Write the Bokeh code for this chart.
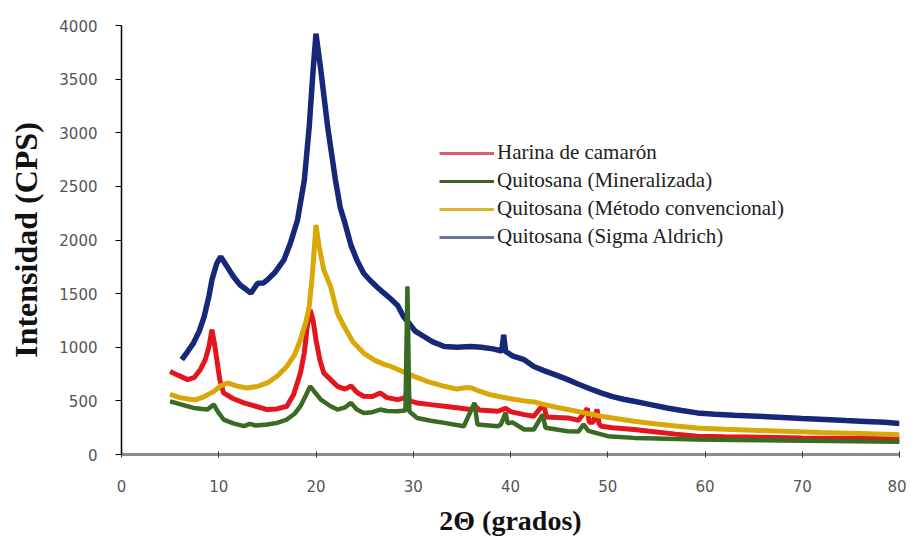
from bokeh.plotting import figure
from bokeh.models import Range1d, FixedTicker, Legend, LegendItem
from bokeh.embed import file_html
from bokeh.resources import INLINE

# ---- data ----
x_ticks = [0, 10, 20, 30, 40, 50, 60, 70, 80]
y_ticks = [0, 500, 1000, 1500, 2000, 2500, 3000, 3500, 4000]

series_names = ["Harina de camarón", "Quitosana (Mineralizada)",
                "Quitosana (Método convencional)", "Quitosana (Sigma Aldrich)"]

red_x = [5.0, 5.8, 6.8, 7.5, 8.1, 8.6, 9.0, 9.3, 9.6, 9.8, 10.1, 10.5, 11.5, 12.6, 13.8,
         15.0, 16.0, 17.0, 17.7, 18.4, 18.8, 19.1, 19.4, 19.7, 20.0, 20.4, 20.8, 21.5,
         22.2, 23.0, 23.6, 24.2, 24.9, 25.8, 26.6, 27.3, 28.4, 29.2, 29.4, 29.6, 30.4,
         31.8, 33.2, 34.5, 35.9, 36.4, 36.8, 38.7, 39.5, 40.0, 41.4, 42.4, 43.4, 43.7,
         45.9, 47.0, 47.9, 48.1, 48.5, 48.9, 49.1, 49.3, 50.5, 52.7, 55.0, 57.0, 59.2,
         62.0, 66.0, 70.0, 75.0, 80.0]
red_y = [775, 740, 698, 720, 791, 880, 1007, 1163, 1010, 884, 700, 574, 520, 481, 450,
         419, 425, 450, 560, 760, 950, 1193, 1349, 1250, 1070, 880, 760, 698,
         636, 610, 640, 580, 543, 540, 574, 530, 512, 530, 620, 500, 481,
         465, 450, 435, 419, 450, 415, 403, 430, 400, 372, 357, 470, 350,
         341, 320, 430, 300, 300, 420, 290, 264, 250, 233, 210, 190, 171,
         165, 160, 155, 152, 148]

green_x = [5.0, 6.0, 7.4, 8.8, 9.5, 9.9, 10.5, 11.5, 12.6, 13.2, 13.8, 15.0, 16.0, 17.0,
           17.8, 18.4, 19.0, 19.4, 19.8, 20.5, 21.5, 22.2, 23.0, 23.6, 24.2, 24.9, 25.8,
           26.6, 27.3, 28.4, 29.2, 29.4, 29.6, 30.4, 31.8, 33.2, 35.2, 36.3, 36.6, 38.7,
           39.0, 39.5, 39.7, 40.2, 41.4, 42.4, 43.3, 43.6, 45.9, 47.0, 47.5, 48.0, 50.0,
           52.7, 55.0, 59.2, 63.0, 68.0, 73.0, 80.0]
green_y = [496, 470, 434, 419, 465, 400, 326, 290, 264, 285, 270, 279, 295, 326,
           380, 450, 560, 636, 590, 512, 450, 419, 440, 481, 420, 388, 395,
           419, 405, 403, 410, 1566, 400, 341, 315, 295, 264, 481, 280, 264,
           279, 388, 290, 300, 233, 233, 372, 250, 217, 215, 280, 220, 171,
           155, 150, 140, 135, 130, 125, 118]

yellow_x = [5.0, 6.0, 7.0, 7.6, 8.5, 9.5, 10.2, 10.9, 11.8, 12.9, 14.0, 15.0, 16.0, 17.0,
            17.8, 18.4, 19.0, 19.3, 19.6, 19.85, 20.0, 20.3, 20.8, 21.5, 22.2, 22.9, 23.8,
            24.9, 26.0, 27.0, 27.7, 29.0, 30.1, 31.5, 33.2, 34.5, 35.5, 36.0, 36.8, 37.8,
            38.7, 40.0, 41.4, 42.4, 43.5, 44.7, 45.9, 47.5, 49.3, 51.0, 52.7, 55.0, 57.0,
            59.2, 62.0, 65.0, 68.8, 72.0, 76.0, 80.0]
yellow_y = [560, 530, 515, 510, 540, 589, 640, 667, 640, 620, 635, 667, 730, 821,
            930, 1070, 1250, 1380, 1650, 1950, 2140, 1950, 1721, 1566, 1318, 1193, 1050,
            946, 880, 840, 821, 770, 728, 680, 636, 610, 625, 620, 590, 560,
            543, 520, 500, 490, 465, 440, 419, 390, 357, 333, 310, 285, 265,
            248, 235, 225, 215, 205, 195, 185]

blue_x = [6.2, 6.8, 7.4, 8.0, 8.5, 9.0, 9.3, 9.8, 10.2, 10.8, 11.5, 12.2, 12.8, 13.3, 14.0,
          14.6, 15.0, 15.8, 16.7, 17.4, 18.1, 18.8, 19.3, 19.7, 20.0, 20.5, 21.2, 22.0,
          22.5, 23.0, 23.6, 24.2, 24.9, 25.6, 26.3, 27.0, 27.7, 28.4, 29.0, 29.5, 30.2,
          31.1, 32.0, 33.2, 34.5, 35.9, 37.0, 38.2, 39.1, 39.3, 39.5, 40.2, 41.4, 42.4,
          43.5, 44.7, 45.9, 47.0, 48.1, 49.3, 50.5, 51.6, 52.7, 54.4, 56.1, 57.6, 59.2,
          61.0, 63.0, 65.4, 68.0, 70.0, 72.3, 74.5, 76.5, 78.5, 80.0]
blue_y = [884, 960, 1039, 1150, 1286, 1480, 1628, 1783, 1845, 1760, 1660, 1580, 1540, 1504, 1597,
          1600, 1628, 1700, 1814, 1980, 2186, 2558, 3054, 3581, 3923, 3581, 3054, 2558,
          2300, 2150, 1950, 1814, 1690, 1620, 1560, 1504, 1450, 1390, 1286, 1230, 1150,
          1100, 1050, 1007, 1000, 1007, 1000, 985, 965, 1116, 960, 920, 884, 821,
          780, 740, 698, 655, 615, 574, 540, 515, 496, 465, 434, 410, 388,
          375, 365, 357, 345, 335, 326, 316, 308, 300, 290]

line_colors = ["#e3161d", "#3b6a22", "#d8a808", "#172878"]
legend_colors = ["#d9606a", "#3f5f2f", "#d8b830", "#6a7295"]
widths = [5, 4.5, 5, 5.5]
xs = [red_x, green_x, yellow_x, blue_x]
ys = [red_y, green_y, yellow_y, blue_y]

p = figure(width=906, height=538, output_backend="svg", toolbar_location=None,
           x_range=Range1d(0, 80), y_range=Range1d(0, 4000),
           min_border_left=121, min_border_right=7, min_border_top=25,
           min_border_bottom=83)
p.outline_line_color = None
p.xgrid.grid_line_color = None
p.ygrid.grid_line_color = None
p.background_fill_color = "white"

# thin legend-sample renderers, hidden underneath the thicker data lines
leg_renderers = []
for i in range(4):
    leg_renderers.append(p.line(xs[i], ys[i], line_color=legend_colors[i], line_width=3))

# data lines (draw order: red, yellow, blue, green)
for i in [0, 2, 3, 1]:
    p.line(xs[i], ys[i], line_color=line_colors[i], line_width=widths[i])

legend = Legend(items=[LegendItem(label=n, renderers=[r])
                       for n, r in zip(series_names, leg_renderers)],
                location=(318, 205), orientation="vertical")
legend.background_fill_alpha = 0
legend.border_line_alpha = 0
legend.padding = 0
legend.margin = 0
legend.spacing = 3
legend.glyph_width = 55
legend.glyph_height = 24
legend.label_height = 24
legend.label_standoff = 3
legend.label_text_font = "Liberation Serif"
legend.label_text_font_size = "21px"
legend.label_text_color = "#222222"
p.add_layout(legend)

# axes
p.xaxis.ticker = FixedTicker(ticks=x_ticks)
p.yaxis.ticker = FixedTicker(ticks=y_ticks)
p.xaxis.minor_tick_line_color = None
p.yaxis.minor_tick_line_color = None

p.yaxis.axis_line_color = "black"
p.yaxis.axis_line_width = 1.5
p.yaxis.major_tick_line_color = "black"
p.yaxis.major_tick_out = 6
p.yaxis.major_tick_in = 0
p.yaxis.major_label_standoff = 18
p.yaxis.major_label_text_font = "DejaVu Sans"
p.yaxis.major_label_text_font_size = "15px"
p.yaxis.major_label_text_color = "#555555"
p.yaxis.axis_label = "Intensidad (CPS)"
p.yaxis.axis_label_text_font = "Liberation Serif"
p.yaxis.axis_label_text_font_style = "bold"
p.yaxis.axis_label_text_font_size = "32px"
p.yaxis.axis_label_text_color = "#111111"
p.yaxis.axis_label_standoff = 12

p.xaxis.axis_line_color = "#8c8c8c"
p.xaxis.axis_line_width = 3
p.xaxis.major_tick_line_color = "#333333"
p.xaxis.major_tick_out = 3
p.xaxis.major_tick_in = 3
p.xaxis.major_label_standoff = 22
p.xaxis.major_label_text_font = "DejaVu Sans"
p.xaxis.major_label_text_font_size = "15px"
p.xaxis.major_label_text_color = "#555555"
p.xaxis.axis_label = "2Θ (grados)"
p.xaxis.axis_label_text_font = "Liberation Serif"
p.xaxis.axis_label_text_font_style = "bold"
p.xaxis.axis_label_text_font_size = "28px"
p.xaxis.axis_label_text_color = "#111111"
p.xaxis.axis_label_standoff = 10

open("out.html", "w").write(file_html(p, INLINE))
